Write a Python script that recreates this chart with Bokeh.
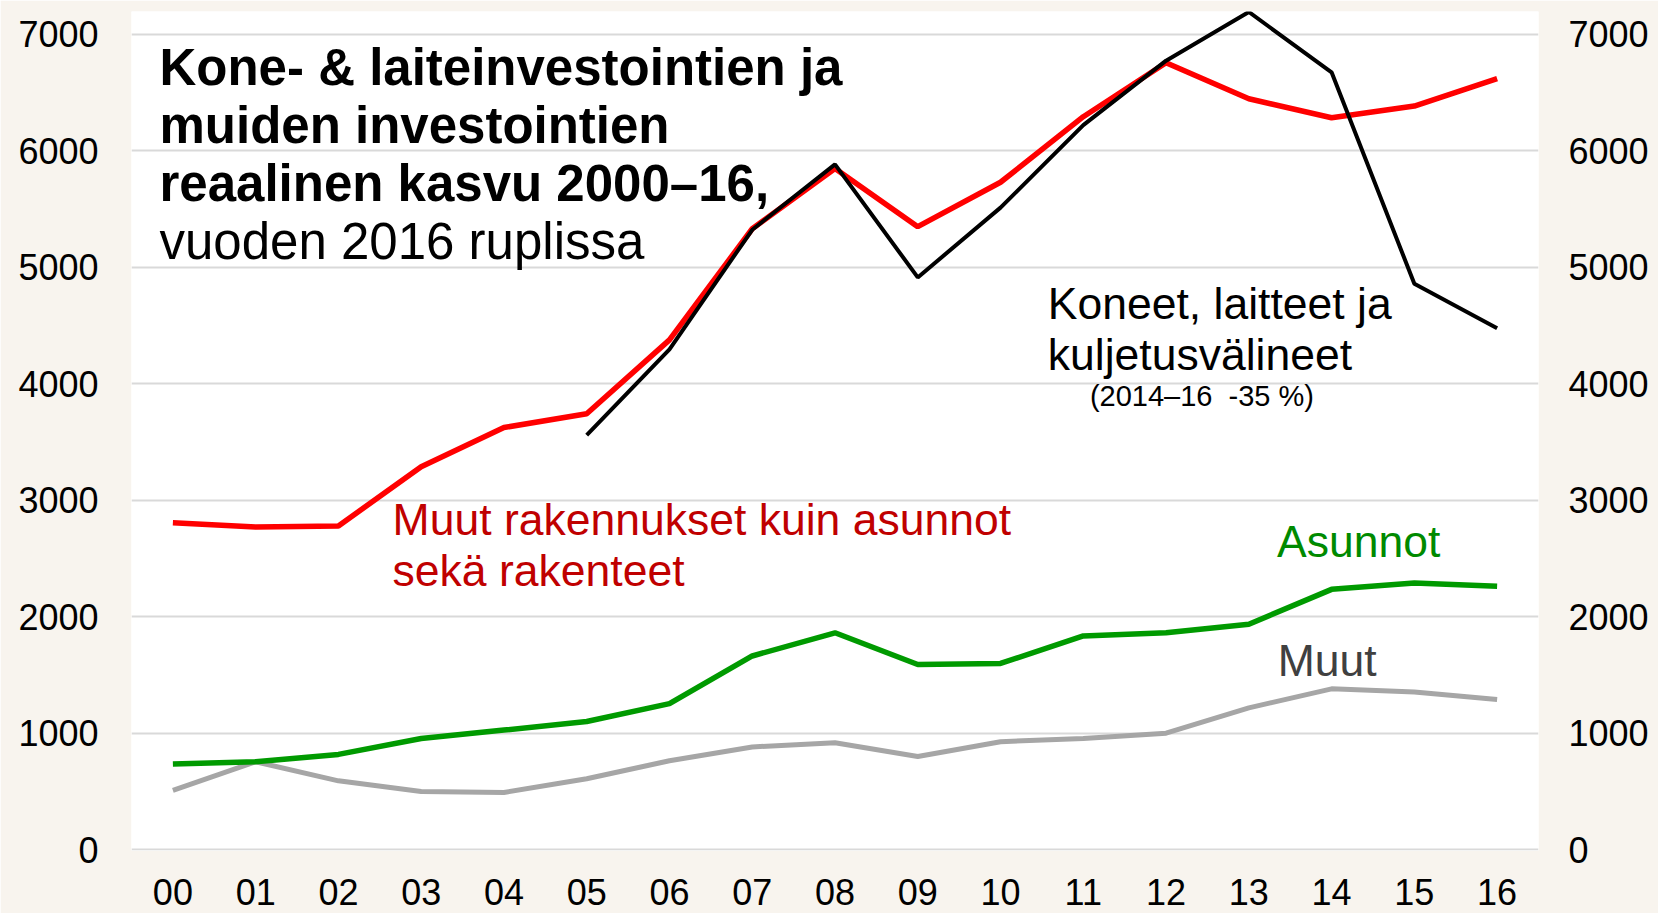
from bokeh.plotting import figure
from bokeh.models import Range1d, FactorRange, LinearAxis, Label, FixedTicker
from bokeh.embed import file_html
from bokeh.resources import INLINE

years = ["00", "01", "02", "03", "04", "05", "06", "07", "08", "09",
         "10", "11", "12", "13", "14", "15", "16"]
muut_rakennukset = [2805, 2769, 2778, 3287, 3623, 3741, 4376, 5330, 5847,
                    5348, 5729, 6292, 6755, 6446, 6283, 6383, 6619]
koneet_years = years[5:]
koneet = [3559, 4295, 5321, 5883, 4912, 5511, 6219, 6773, 7191, 6673, 4857, 4476]
asunnot = [735, 754, 817, 953, 1026, 1099, 1253, 1662, 1861, 1589, 1598,
           1834, 1861, 1934, 2234, 2288, 2261]
muut = [508, 754, 590, 499, 490, 608, 763, 881, 917, 799, 926, 953, 999,
        1217, 1380, 1353, 1289]
y_ticks = [0, 1000, 2000, 3000, 4000, 5000, 6000, 7000]

BG = "#F8F4EE"
FONT = "Liberation Sans"

p = figure(width=1658, height=928, output_backend="svg", toolbar_location=None,
           x_range=FactorRange(*years, range_padding=0),
           y_range=Range1d(-8, 7195),
           min_border_left=131, min_border_right=120,
           min_border_top=11, min_border_bottom=78)
p.background_fill_color = "white"
p.border_fill_color = BG
p.outline_line_color = None

p.xgrid.grid_line_color = None
p.ygrid.grid_line_color = "#D9D9D9"
p.ygrid.grid_line_width = 2
p.ygrid.ticker = FixedTicker(ticks=y_ticks)


def style_axis(ax, standoff):
    ax.axis_line_color = None
    ax.major_tick_line_color = None
    ax.minor_tick_line_color = None
    ax.major_tick_out = 0
    ax.major_tick_in = 0
    ax.minor_tick_out = 0
    ax.minor_tick_in = 0
    ax.major_label_text_font = FONT
    ax.major_label_text_font_size = "36px"
    ax.major_label_text_color = "black"
    ax.major_label_standoff = standoff


p.yaxis[0].ticker = FixedTicker(ticks=y_ticks)
style_axis(p.yaxis[0], 33)
style_axis(p.xaxis[0], 28)

right = LinearAxis(ticker=FixedTicker(ticks=y_ticks))
style_axis(right, 30)
p.add_layout(right, "right")

p.line(years, muut, line_color="#A6A6A6", line_width=5)
p.line(years, asunnot, line_color="#009A00", line_width=5.5)
p.line(years, muut_rakennukset, line_color="#FF0000", line_width=5.5)
p.line(koneet_years, koneet, line_color="black", line_width=4)


def lab(x, y, text, size, color="black", style="normal"):
    p.add_layout(Label(x=x, y=y, text=text, text_font=FONT,
                       text_font_size=size, text_color=color,
                       text_font_style=style, text_baseline="alphabetic",
                       text_align="left"))


lab(0.338, 6718, "Kone- & laiteinvestointien ja", "51px", style="bold")
lab(0.338, 6220, "muiden investointien", "51px", style="bold")
lab(0.338, 5722, "reaalinen kasvu 2000–16,", "51px", style="bold")
lab(0.338, 5220, "vuoden 2016 ruplissa", "51px")

lab(11.071, 4688, "Koneet, laitteet ja", "44.5px")
lab(11.071, 4250, "kuljetusvälineet", "44.5px")
lab(11.58, 3897, "(2014–16\u00a0 -35\u00a0%)", "29px")

lab(3.155, 2834, "Muut rakennukset kuin asunnot", "44.5px", color="#C00000")
lab(3.155, 2396, "sekä rakenteet", "44.5px", color="#C00000")
lab(13.84, 2645, "Asunnot", "44.5px", color="#008A00")
lab(13.85, 1623, "Muut", "44.5px", color="#404040")

html = file_html(p, INLINE)
html = html.replace("<body>", '<body style="margin:0;background:%s;overflow:hidden">' % BG, 1)
open("out.html", "w").write(html)
